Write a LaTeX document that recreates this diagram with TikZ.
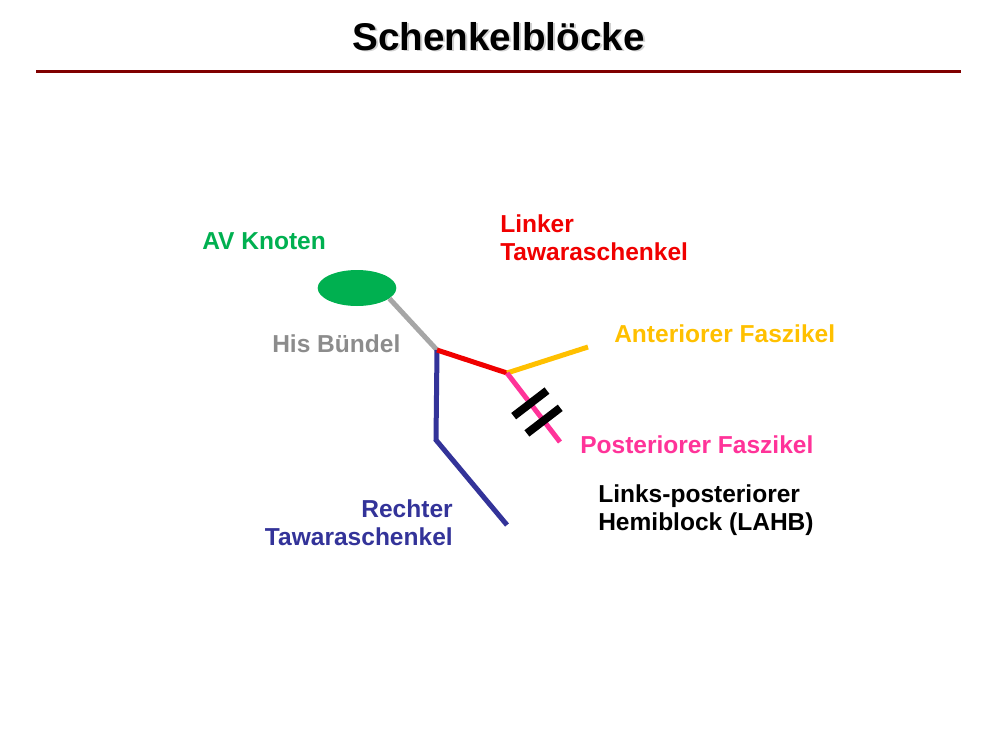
\documentclass[tikz,border=0pt]{standalone}
\usepackage{fontspec}
\setmainfont{Liberation Sans}
\usetikzlibrary{calc,shapes.geometric}
\definecolor{avgreen}{RGB}{0,176,80}
\definecolor{hisgrey}{RGB}{166,166,166}
\definecolor{histext}{RGB}{140,140,140}
\definecolor{lred}{RGB}{240,0,0}
\definecolor{antyel}{RGB}{255,192,0}
\definecolor{postpink}{RGB}{255,51,153}
\definecolor{rblue}{RGB}{51,51,153}
\definecolor{rulered}{RGB}{128,0,0}
\tikzset{
  lbl/.style={inner sep=0pt, font=\fontsize{18.4}{21}\selectfont\bfseries, align=left},
  ttl/.style={inner sep=0pt, anchor=base, font=\fontsize{29}{31}\selectfont\bfseries},
  fiber/.style={line width=3.75pt},
  blockbar/.style={line width=6pt, black},
}
\begin{document}
\begin{tikzpicture}[x=0.75pt,y=-0.75pt]
\useasboundingbox (0,0) rectangle (1000,750);
% title
\node[ttl, text=black!18] (titleshadow) at (500.5,51.5) {Schenkelblöcke};
\node[ttl] (title) at (498.5,50) {Schenkelblöcke};
\coordinate (ruleL) at (36,71);
\coordinate (ruleR) at (961,71);
\draw[rulered, line width=2.25pt] (ruleL) -- (ruleR);
% junctions
\coordinate (j1) at (437,350);
\coordinate (j2) at (507,373);
\coordinate (ae) at (588,347);
\coordinate (pe) at (560,442);
\coordinate (rb) at (436,440);
\coordinate (re) at (507,525);
% AV node
\node[ellipse, fill=avgreen, minimum width=59pt, minimum height=27pt, inner sep=0pt] (av) at (357,288) {};
% fibers
\draw[fiber, hisgrey] (av.-18) -- (j1);
\draw[fiber, rblue] (j1) -- (rb) -- (re);
\draw[fiber, lred] (j1) -- (j2);
\draw[fiber, antyel] (j2) -- (ae);
\draw[fiber, postpink] (j2) -- (pe);
% block bars
\coordinate (m1) at ($(j2)!0.44!(pe)$);
\coordinate (m2) at ($(j2)!0.69!(pe)$);
\draw[blockbar] ($(m1)!15.75pt!90:(pe)$) -- ($(m1)!15.75pt!-90:(pe)$);
\draw[blockbar] ($(m2)!15.75pt!90:(pe)$) -- ($(m2)!15.75pt!-90:(pe)$);
% labels
\node[lbl, anchor=base west, text=avgreen] (avl) at (202,249) {AV Knoten};
\node[lbl, anchor=base west, text=histext] (hisl) at (272,352) {His Bündel};
\node[lbl, anchor=base west, text=lred] (ltl) at (500,260) {Linker\\Tawaraschenkel};
\node[lbl, anchor=base west, text=antyel] (afl) at (614,342) {Anteriorer Faszikel};
\node[lbl, anchor=base west, text=postpink] (pfl) at (580,453) {Posteriorer Faszikel};
\node[lbl, anchor=base west, text=black] (lahb) at (598,530) {Links-posteriorer\\Hemiblock (LAHB)};
\node[lbl, anchor=base east, align=right, text=rblue] (rtl) at (453,545) {Rechter\\Tawaraschenkel};
\end{tikzpicture}
\end{document}
